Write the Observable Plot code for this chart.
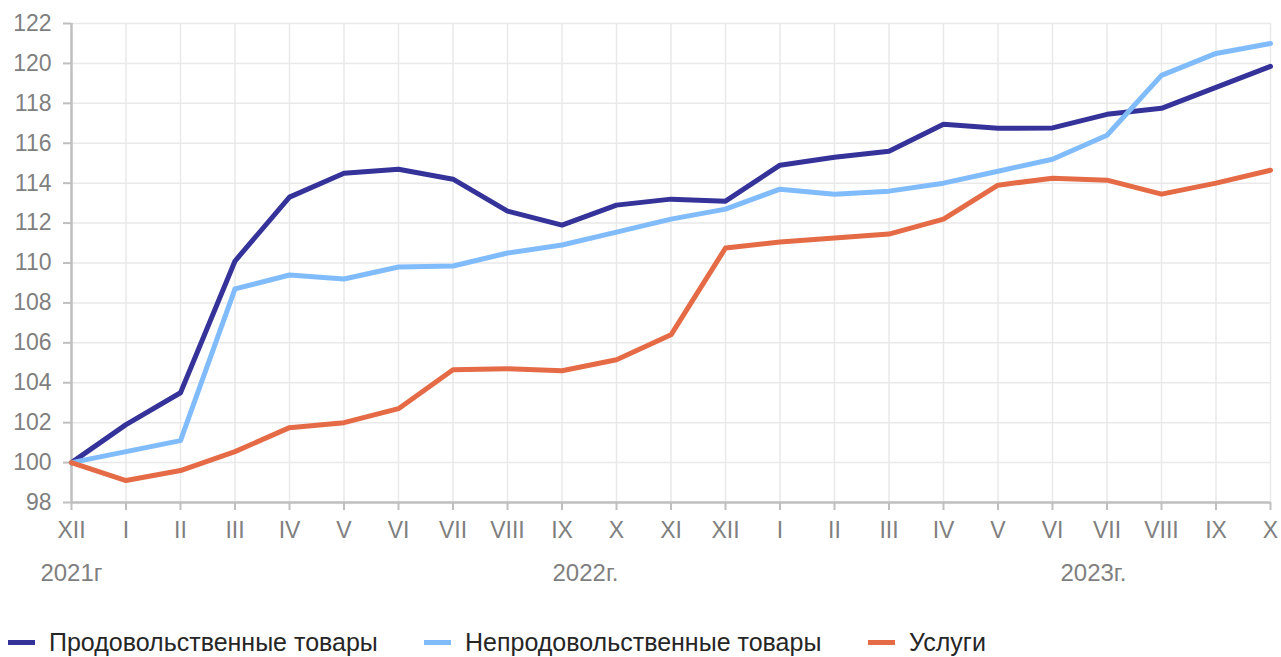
<!DOCTYPE html>
<html><head><meta charset="utf-8">
<script src="https://cdn.jsdelivr.net/npm/d3@7"></script>
<script src="https://cdn.jsdelivr.net/npm/@observablehq/plot@0.6"></script>
<style>
html,body{margin:0;padding:0;background:#fff;}
body{position:relative;width:1281px;height:657px;overflow:hidden;font-family:"Liberation Sans",Arial,sans-serif;}
#legend{position:absolute;left:0;top:628px;width:1281px;height:28px;}
.item{position:absolute;top:0;display:flex;align-items:center;font-size:25px;color:#262626;white-space:nowrap;line-height:28px;height:28px;}
.sw{display:inline-block;width:27px;height:5px;margin-right:14px;}
</style></head><body>
<div id="chart"></div>
<div id="legend"></div>
<script>
const months = ["XII","I","II","III","IV","V","VI","VII","VIII","IX","X","XI","XII","I","II","III","IV","V","VI","VII","VIII","IX","X"];
const food     = [100,101.9,103.5,110.1,113.3,114.5,114.7,114.2,112.6,111.9,112.9,113.2,113.1,114.9,115.3,115.6,116.95,116.75,116.77,117.45,117.75,118.8,119.85];
const nonfood  = [100,100.55,101.1,108.7,109.4,109.2,109.8,109.85,110.5,110.9,111.55,112.2,112.7,113.7,113.45,113.6,114.0,114.6,115.2,116.4,119.4,120.5,121.0];
const services = [100,99.1,99.6,100.55,101.75,102.0,102.7,104.65,104.7,104.6,105.15,106.4,110.75,111.05,111.25,111.45,112.2,113.9,114.25,114.15,113.45,114.0,114.65];
const seriesNames = ["Продовольственные товары","Непродовольственные товары","Услуги"];
const seriesColors = ["#35339a","#80bcfc","#e46b45"];
const yearLabels = ["2021г","2022г.","2023г."];
const yearAt = [0, 9.43, 18.75];
const yTicks = d3.range(98, 123, 2);

const seriesValues = [food, nonfood, services];
const data = [];
seriesNames.forEach((s, k) => seriesValues[k].forEach((v, i) => data.push({i, v, s})));
const xIdx = d3.range(months.length);

const chart = Plot.plot({
  width: 1281, height: 610,
  marginLeft: 71, marginRight: 11, marginTop: 23, marginBottom: 108,
  style: {fontFamily: "'Liberation Sans', Arial, sans-serif", fontSize: "23px", background: "#fff", color: "#7f7f7f"},
  x: {domain: [0, 22]},
  y: {domain: [98, 122]},
  color: {domain: seriesNames, range: seriesColors},
  marks: [
    Plot.gridX(xIdx, {stroke: "#e9e9e9", strokeOpacity: 1, strokeWidth: 1.5}),
    Plot.gridY(yTicks, {stroke: "#e9e9e9", strokeOpacity: 1, strokeWidth: 1.5}),
    Plot.axisY(yTicks, {tickSize: 8, tickPadding: 12, stroke: "#bfbfbf", strokeWidth: 2, fill: "#7f7f7f", fontSize: 23, label: null}),
    Plot.axisX(xIdx, {tickSize: 8, tickPadding: 11, stroke: "#bfbfbf", strokeWidth: 2, fill: "#7f7f7f", fontSize: 23, tickFormat: i => months[i], label: null}),
    Plot.ruleX([0], {stroke: "#bfbfbf", strokeWidth: 2.5}),
    Plot.ruleY([98], {stroke: "#bfbfbf", strokeWidth: 2.5}),
    Plot.line(data, {x: "i", y: "v", z: "s", stroke: "s", strokeWidth: 5, strokeLinejoin: "round"}),
    Plot.text(yearLabels, {x: (d, i) => yearAt[i], frameAnchor: "bottom", dy: 78, fill: "#7f7f7f", fontSize: 24, text: d => d})
  ]
});
document.getElementById("chart").appendChild(chart);

const legend = document.getElementById("legend");
const lefts = [8, 424, 868];
seriesNames.forEach((s, k) => {
  const it = document.createElement("div");
  it.className = "item";
  it.style.left = lefts[k] + "px";
  it.innerHTML = `<span class="sw" style="background:${seriesColors[k]}"></span><span>${s}</span>`;
  legend.appendChild(it);
});
</script>
</body></html>
